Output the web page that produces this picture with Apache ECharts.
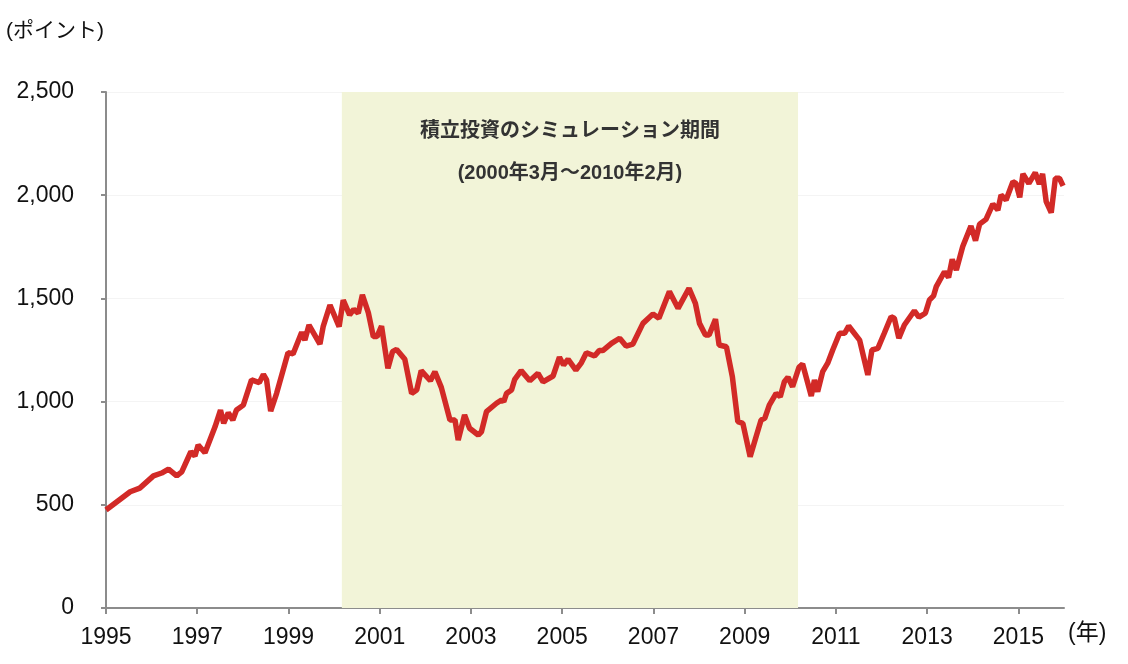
<!DOCTYPE html>
<html>
<head>
<meta charset="utf-8">
<script src="https://cdn.jsdelivr.net/npm/echarts@6/dist/echarts.min.js"></script>
<style>html,body{margin:0;padding:0;background:#fff}#main{width:1128px;height:664px}</style>
</head>
<body>
<div id="main"></div>
<script>
var myChart = echarts.init(document.getElementById("main"));

// index level (points), x = fractional year
var years = [1995.0,1995.53,1995.74,1996.04,1996.22,1996.37,1996.55,1996.66,1996.86,1996.95,1997.02,1997.17,1997.39,1997.51,1997.58,1997.68,1997.78,1997.86,1998.01,1998.19,1998.36,1998.45,1998.52,1998.61,1998.74,1998.99,1999.1,1999.29,1999.36,1999.45,1999.69,1999.76,1999.91,2000.11,2000.2,2000.34,2000.43,2000.53,2000.62,2000.75,2000.86,2000.94,2001.04,2001.18,2001.28,2001.37,2001.55,2001.7,2001.81,2001.91,2002.11,2002.21,2002.35,2002.54,2002.65,2002.72,2002.86,2002.97,2003.16,2003.23,2003.34,2003.56,2003.67,2003.72,2003.78,2003.89,2003.96,2004.1,2004.29,2004.47,2004.58,2004.8,2004.94,2005.03,2005.13,2005.3,2005.42,2005.53,2005.71,2005.81,2005.89,2006.08,2006.26,2006.4,2006.55,2006.77,2006.99,2007.12,2007.35,2007.54,2007.78,2007.92,2008.01,2008.14,2008.22,2008.36,2008.44,2008.6,2008.73,2008.85,2008.96,2009.12,2009.25,2009.36,2009.44,2009.54,2009.69,2009.78,2009.87,2009.95,2010.05,2010.19,2010.27,2010.46,2010.53,2010.6,2010.71,2010.82,2010.93,2011.08,2011.19,2011.28,2011.52,2011.7,2011.79,2011.92,2012.06,2012.21,2012.28,2012.38,2012.5,2012.72,2012.82,2012.96,2013.05,2013.14,2013.2,2013.38,2013.47,2013.55,2013.64,2013.78,2013.96,2014.06,2014.15,2014.29,2014.44,2014.55,2014.62,2014.73,2014.88,2014.95,2015.03,2015.1,2015.23,2015.37,2015.46,2015.53,2015.61,2015.72,2015.81,2015.9,2015.98];
var values = [475,563,581,640,654,673,640,660,757,736,790,752,878,959,895,946,911,959,983,1105,1092,1132,1105,954,1040,1237,1231,1336,1298,1371,1279,1363,1468,1363,1492,1420,1447,1428,1517,1431,1315,1315,1366,1161,1242,1253,1205,1040,1056,1150,1101,1145,1069,911,911,814,935,871,838,854,951,992,1008,1000,1040,1056,1108,1150,1101,1137,1096,1124,1215,1177,1205,1153,1188,1237,1221,1247,1247,1282,1307,1269,1279,1379,1424,1404,1533,1452,1549,1476,1379,1323,1323,1399,1274,1266,1121,903,895,733,830,911,919,983,1040,1024,1096,1118,1072,1166,1182,1027,1105,1048,1145,1186,1250,1331,1331,1366,1298,1129,1250,1258,1331,1411,1404,1307,1371,1440,1409,1428,1492,1512,1557,1629,1602,1689,1638,1751,1851,1780,1860,1883,1957,1928,2001,1977,2065,2057,1990,2103,2057,2109,2054,2103,1969,1915,2082,2082,2045];
var simStart = 2000.17, simEnd = 2010.17;

var data = years.map(function (y, i) { return [y, values[i]]; });
var font = "'Liberation Sans', Arial, 'Noto Sans CJK JP', sans-serif";

option = {
  animation: false,
  grid: { left: 106, right: 64, top: 92, bottom: 56 },
  xAxis: {
    type: "value", min: 1995, max: 2016, interval: 2,
    axisLine: { lineStyle: { color: "#8c8c8c", width: 2 } },
    axisTick: { show: true, length: 6, lineStyle: { color: "#8c8c8c", width: 2 } },
    axisLabel: {
      color: "#111", fontSize: 23, fontFamily: font, margin: 18, showMaxLabel: false,
      formatter: function (v) { return String(v); }
    },
    splitLine: { show: false }
  },
  yAxis: {
    type: "value", min: 0, max: 2500, interval: 500,
    name: "(ポイント)", nameLocation: "end", nameGap: 50,
    nameTextStyle: { color: "#111", fontSize: 21, fontFamily: font, align: "left", padding: [0, 0, 0, -100] },
    axisLine: { show: true, lineStyle: { color: "#8c8c8c", width: 2 } },
    axisTick: { show: true, inside: false, length: 5, lineStyle: { color: "#8c8c8c", width: 2 } },
    axisLabel: {
      color: "#111", fontSize: 23, fontFamily: font, margin: 32,
      formatter: function (v) { return v.toLocaleString("en-US"); }
    },
    splitLine: { show: true, lineStyle: { color: "#f4f4f4" } }
  },
  graphic: [{
    type: "text", left: 1068, top: 622,
    style: { text: "(年)", fontSize: 23, fontFamily: font, fill: "#111" }
  }],
  series: [{
    type: "line", data: data, showSymbol: false,
    lineStyle: { color: "#d22a27", width: 5.5 },
    markArea: {
      silent: true,
      itemStyle: { color: "#f2f4d8" },
      label: {
        show: true, position: "insideTop", distance: 18,
        color: "#333", fontSize: 20, fontWeight: "bold", fontFamily: font, lineHeight: 42,
        formatter: "積立投資のシミュレーション期間\n(2000年3月～2010年2月)"
      },
      data: [[{ xAxis: simStart }, { xAxis: simEnd }]]
    },
    z: 3
  }]
};

myChart.setOption(option);
</script>
</body>
</html>
